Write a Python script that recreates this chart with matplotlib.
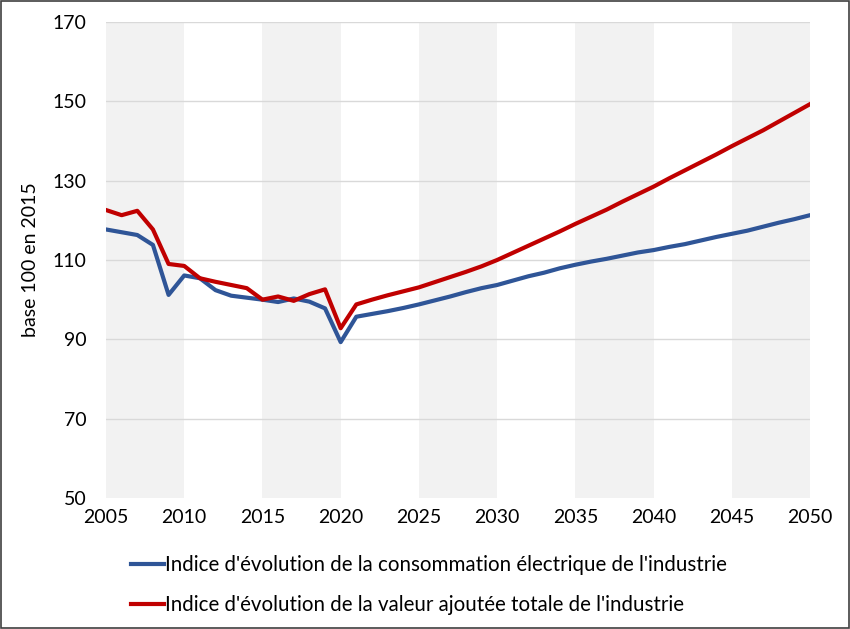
import numpy as np
import matplotlib
matplotlib.use("Agg")
import matplotlib.pyplot as plt
from matplotlib.patches import Rectangle

# data (index, base 100 in 2015)
years = list(range(2005, 2051))

conso_elec = [117.7, 117.0, 116.3, 113.8, 101.2, 106.1, 105.4, 102.4, 101.0, 100.5,
              100.0, 99.4, 100.3, 99.5, 97.8, 89.3, 95.7, 96.4, 97.1, 97.9,
              98.8, 99.8, 100.8, 101.9, 102.9, 103.7, 104.8, 105.9, 106.8, 107.9,
              108.8, 109.6, 110.3, 111.1, 111.9, 112.5, 113.3, 114.0, 114.9, 115.8,
              116.6, 117.4, 118.4, 119.4, 120.3, 121.3]

valeur_ajoutee = [122.6, 121.3, 122.4, 117.7, 109.0, 108.5, 105.4, 104.5, 103.7, 102.9,
                  100.0, 100.8, 99.7, 101.4, 102.6, 92.8, 98.8, 100.0, 101.1, 102.1,
                  103.1, 104.4, 105.7, 107.0, 108.4, 110.0, 111.8, 113.6, 115.4, 117.2,
                  119.1, 120.9, 122.7, 124.7, 126.6, 128.5, 130.6, 132.6, 134.6, 136.6,
                  138.7, 140.7, 142.7, 144.9, 147.1, 149.3]

labels = ["Indice d'évolution de la consommation électrique de l'industrie",
          "Indice d'évolution de la valeur ajoutée totale de l'industrie"]

x_ticks = list(range(2005, 2051, 5))
y_ticks = list(range(50, 171, 20))

blue = "#2F5597"
red = "#C00000"

plt.rcParams['font.family'] = ['Lato', 'DejaVu Sans']

fig = plt.figure(figsize=(8.5, 6.29), dpi=100)
ax = fig.add_axes([0.1247, 0.2083, 0.8283, 0.7567])

# alternating grey bands every 5 years
for start in range(2005, 2050, 10):
    ax.axvspan(start, start + 5, color="#F2F2F2", lw=0, zorder=0)

for y in y_ticks[1:]:
    ax.axhline(y, color="#D9D9D9", lw=1, zorder=1)

ax.plot(years, conso_elec, color=blue, lw=3, label=labels[0], zorder=3,
        solid_joinstyle='round')
ax.plot(years, valeur_ajoutee, color=red, lw=3, label=labels[1], zorder=3,
        solid_joinstyle='round')

ax.set_xlim(2005, 2050)
ax.set_ylim(50, 170)
ax.set_xticks(x_ticks)
ax.set_yticks(y_ticks)
ax.tick_params(length=0, labelsize=14, colors="black", pad=8)
ax.tick_params(axis='y', pad=14)
for s in ax.spines.values():
    s.set_visible(False)

ax.set_ylabel("base 100 en 2015", fontsize=14, labelpad=10)

fig.legend(loc="upper left", bbox_to_anchor=(0.145, 0.13), frameon=False,
           fontsize=14.8, handlelength=1.6, handletextpad=0.05, labelspacing=0.95,
           borderaxespad=0)

# thin frame around the whole picture
fig.patches.append(Rectangle((0.001, 0.001), 0.998, 0.998, transform=fig.transFigure,
                             fill=False, edgecolor="#404040", lw=1.2))

fig.savefig("out.png", dpi=100)
